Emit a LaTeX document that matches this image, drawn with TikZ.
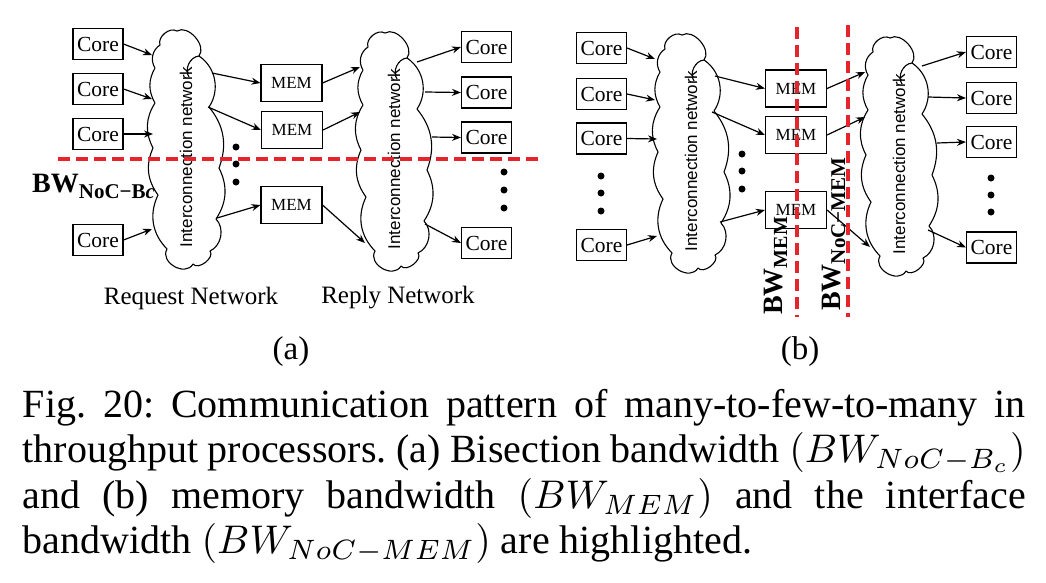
\documentclass[tikz,border=0pt]{standalone}
\usepackage{fontspec}
\setmainfont{Liberation Serif}
\newfontfamily\arialfont{Liberation Sans}
\usetikzlibrary{arrows.meta}
\definecolor{bwred}{RGB}{228,38,44}
\frenchspacing
\tikzset{
  corebox/.style={draw,line width=1.1pt,inner sep=0pt,minimum width=50pt,minimum height=31pt,font=\fontsize{21.5}{22}\selectfont},
  membox/.style={draw,line width=1.1pt,inner sep=0pt,minimum width=61pt,minimum height=37pt,font=\fontsize{17}{18}\selectfont},
  link/.style={line width=1.2pt,-{Stealth[length=9pt,width=7pt]}},
  cut/.style={bwred,line width=3.5pt,dash pattern=on 12pt off 6pt},
  bwlabel/.style={inner sep=0pt,font=\fontsize{28}{28}\selectfont\bfseries},
  plainlabel/.style={inner sep=0pt,font=\fontsize{25}{26}\selectfont},
  sublabel/.style={inner sep=0pt,font=\fontsize{33}{34}\selectfont},
  netcloud/.pic={
    \draw[line width=1.1pt,fill=white,line join=round]
      (8,22) to[bend left=70] (25,8) to[bend left=80] (47,33)
      to[bend left=45] (57,84) to[bend left=30] (67,145)
      to[bend left=30] (64,196) to[bend left=55] (58,228)
      to[bend left=90] (41,241) to[bend left=90,looseness=1.3] (15,226)
      to[bend left=35] (6,172) to[bend left=30] (1,125)
      to[bend left=30] (3,80) to[bend left=30] (3,45)
      to[bend left=45] (8,22) -- cycle;
    \draw[line width=1.1pt] (37,54) to[bend left=60] (47,33);
    \node[rotate=90,inner sep=0pt,font=\arialfont\fontsize{17}{18}\selectfont] (-txt) at (34,134) {Interconnection network};
  }
}
\begin{document}
\begin{tikzpicture}[x=1pt,y=-1pt]
\fill[white] (0,0) rectangle (1046,582);
\useasboundingbox (0,0) rectangle (1046,582);

% ---------- (a) ----------
\node[bwlabel,anchor=base west] (bwa) at (32,192) {BW\raisebox{-6pt}{\fontsize{21}{21}\selectfont NoC−B\textit{c}}};

\pic (L1) at (152,23) {netcloud};
\pic (L2) at (360,25) {netcloud};

\node[corebox] (a1) at (98,44) {Core};
\node[corebox] (a2) at (98,89) {Core};
\node[corebox] (a3) at (98,134) {Core};
\node[corebox] (a4) at (98,240) {Core};
\node[membox] (am1) at (291.5,83) {MEM};
\node[membox] (am2) at (292,130) {MEM};
\node[membox] (am3) at (291.5,205) {MEM};
\node[corebox] (ar1) at (486.5,47) {Core};
\node[corebox] (ar2) at (486.5,92.5) {Core};
\node[corebox] (ar3) at (486.5,137.5) {Core};
\node[corebox] (ar4) at (486.5,243) {Core};

\coordinate (ai1) at (152,55);
\coordinate (ai2) at (152,99);
\coordinate (ai3) at (153,134);
\coordinate (ai4) at (152,229);
\coordinate (ao1) at (212,73);
\coordinate (ao2) at (208,107);
\coordinate (ao3) at (217,218);
\coordinate (bi1) at (360,67);
\coordinate (bi2) at (360,112);
\coordinate (bi3) at (365,243);
\coordinate (bo1) at (417,62);
\coordinate (bo2) at (425,92);
\coordinate (bo3) at (432,137);
\coordinate (bo4) at (425,224);

\draw[link] (a1.east) -- (ai1);
\draw[link] (a2.east) -- (ai2);
\draw[link] (a3.east) -- (ai3);
\draw[link] (a4.east) -- (ai4);
\draw[link] (ao1) -- (am1.west);
\draw[link] (ao2) -- (am2.west);
\draw[link] (ao3) -- (am3.west);
\draw[link] (am1.east) -- (bi1);
\draw[link] (am2.east) -- (bi2);
\draw[link] (am3.east) -- (bi3);
\draw[link] (bo1) -- (ar1.west);
\draw[link] (bo2) -- (ar2.west);
\draw[link] (bo3) -- (ar3.west);
\draw[link] (bo4) -- (ar4.west);

\foreach \y in {147,164,182} \fill (236,\y) circle[radius=3.5pt];
\foreach \y in {172,190,208} \fill (504,\y) circle[radius=3.5pt];

\node[plainlabel] (reqlab) at (191,298) {Request Network};
\node[plainlabel] (replab) at (398,298) {Reply Network};
\node[sublabel] (suba) at (291,352) {(a)};

\coordinate (cutaL) at (58,159);
\coordinate (cutaR) at (542,159);
\draw[cut] (cutaL) -- (cutaR);

% ---------- (b) ----------
\pic (R1) at (657,27) {netcloud};
\pic (R2) at (865,30) {netcloud};

\node[corebox] (p1) at (601.5,48) {Core};
\node[corebox] (p2) at (601.5,94) {Core};
\node[corebox] (p3) at (601.5,138.5) {Core};
\node[corebox] (p4) at (601.5,245) {Core};
\node[membox] (pm1) at (796,88.5) {MEM};
\node[membox] (pm2) at (796,135) {MEM};
\node[membox] (pm3) at (796,210) {MEM};
\node[corebox] (pr1) at (991.5,52) {Core};
\node[corebox] (pr2) at (991.5,98) {Core};
\node[corebox] (pr3) at (991.5,142) {Core};
\node[corebox] (pr4) at (991.5,247.5) {Core};

\coordinate (ci1) at (655,59);
\coordinate (ci2) at (655,100);
\coordinate (ci3) at (657,139);
\coordinate (ci4) at (657,236);
\coordinate (co1) at (715,76);
\coordinate (co2) at (712,112);
\coordinate (co3) at (720,222);
\coordinate (di1) at (865,72);
\coordinate (di2) at (865,117);
\coordinate (di3) at (870,247);
\coordinate (do1) at (922,66);
\coordinate (do2) at (928,97);
\coordinate (do3) at (937,143);
\coordinate (do4) at (928,230);

\draw[link] (p1.east) -- (ci1);
\draw[link] (p2.east) -- (ci2);
\draw[link] (p3.east) -- (ci3);
\draw[link] (p4.east) -- (ci4);
\draw[link] (co1) -- (pm1.west);
\draw[link] (co2) -- (pm2.west);
\draw[link] (co3) -- (pm3.west);
\draw[link] (pm1.east) -- (di1);
\draw[link] (pm2.east) -- (di2);
\draw[link] (pm3.east) -- (di3);
\draw[link] (do1) -- (pr1.west);
\draw[link] (do2) -- (pr2.west);
\draw[link] (do3) -- (pr3.west);
\draw[link] (do4) -- (pr4.west);

\foreach \y in {176,193,211} \fill (601,\y) circle[radius=3.5pt];
\foreach \y in {154,171,189} \fill (742,\y) circle[radius=3.5pt];
\foreach \y in {178,195,212} \fill (991,\y) circle[radius=3.5pt];

\node[bwlabel,rotate=90,anchor=base west] (bwm) at (782,315) {BW\raisebox{-5pt}{\fontsize{20}{20}\selectfont MEM}};
\node[bwlabel,rotate=90,anchor=base west] (bwn) at (840,311) {BW\raisebox{-5pt}{\fontsize{21}{21}\selectfont NoC−MEM}};

\coordinate (cutbT) at (797,27);
\coordinate (cutbB) at (797,317);
\coordinate (cutcT) at (848,25);
\coordinate (cutcB) at (848,317);
\draw[cut] (cutbT) -- (cutbB);
\draw[cut] (cutcT) -- (cutcB);

\node[sublabel] (subb) at (800,352) {(b)};

% ---------- caption ----------
\node[anchor=base west,scale=4,transform shape,text width=250.75pt,inner sep=0pt,align=justify,font=\fontsize{10}{11.375}\selectfont] (cap) at (22,417)
 {Fig.\ 20: Communication pattern of many-to-few-to-many in\linebreak
  throughput processors. (a) Bisection bandwidth $(BW_{NoC-B_c})$\linebreak
  and (b) memory bandwidth $(BW_{MEM})$ and the interface\linebreak
  bandwidth $(BW_{NoC-MEM})$ are highlighted.};
\end{tikzpicture}
\end{document}
